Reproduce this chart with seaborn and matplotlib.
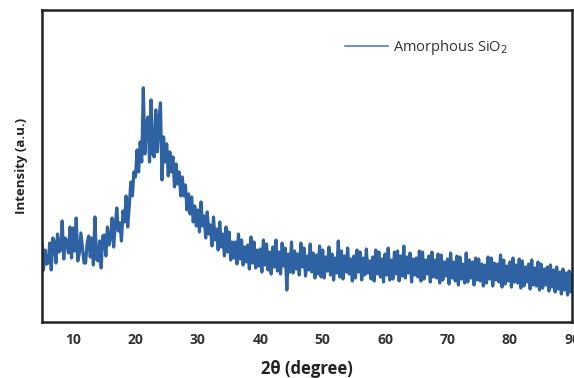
import numpy as np
import matplotlib
matplotlib.use("Agg")
import matplotlib.pyplot as plt
import seaborn as sns

sns.set_style("white")
plt.rcParams['font.family'] = ['Open Sans', 'DejaVu Sans']

# XRD scan, 5-90 deg, 4 readings per degree (arbitrary units)
intensity = [
    79, 52, 72, 58,   59, 79, 52, 84,   80, 59, 88, 70,   72, 101, 63, 84,
    80, 69, 95, 64,   94, 71, 104, 61,  69, 89, 74, 59,   59, 79, 86, 65,
    84, 57, 105, 63,  61, 81, 54, 86,   87, 66, 95, 77,   84, 104, 75, 96,
    114, 91, 99, 81,  111, 100, 126, 95, 116, 140, 126, 150, 145, 172, 150, 180,
    160, 234, 168, 198, 205, 160, 222, 168, 165, 212, 170, 200, 219, 142, 185, 160,
    178, 146, 170, 150, 165, 135, 158, 138, 150, 126, 145, 126, 137, 112, 128, 108,
    125, 100, 116, 96, 112, 90, 120, 96,  106, 84, 110, 88,  97, 76, 105, 82,
    93, 72, 100, 75,  88, 66, 95, 70,   90, 62, 80, 64,   80, 58, 88, 63,
    82, 57, 75, 60,   77, 53, 85, 59,   80, 54, 72, 56,   73, 50, 82, 57,
    78, 52, 70, 48,   75, 55, 82, 51,   70, 48, 79, 56,   74, 32, 68, 50,
    80, 49, 71, 53,   68, 47, 79, 55,   74, 46, 66, 52,   78, 50, 69, 44,
    67, 48, 76, 45,   72, 44, 65, 51,   75, 47, 68, 42,   64, 49, 81, 45,
    71, 43, 66, 50,   74, 48, 63, 41,   66, 44, 72, 50,   70, 42, 64, 47,
    73, 49, 61, 43,   65, 41, 72, 48,   70, 45, 63, 40,   68, 47, 74, 42,
    62, 43, 70, 48,   71, 41, 66, 46,   76, 44, 65, 49,   69, 40, 63, 47,
    64, 45, 71, 41,   70, 43, 62, 48,   66, 40, 70, 45,   62, 44, 68, 39,
    67, 42, 60, 46,   63, 38, 69, 44,   60, 41, 66, 37,   65, 43, 58, 39,
    69, 40, 62, 44,   60, 37, 64, 42,   63, 41, 58, 36,   57, 39, 65, 43,
    64, 36, 59, 42,   58, 40, 67, 35,   62, 38, 56, 41,   60, 35, 64, 40,
    57, 39, 63, 34,   61, 36, 55, 40,   58, 33, 62, 37,   54, 36, 60, 32,
    58, 34, 53, 37,   55, 31, 57, 35,   52, 30, 55, 33,   50, 28, 53, 32,
    49, 27, 51, 30,   48,
]
two_theta = np.linspace(5, 90, len(intensity))
x_ticks = [10, 20, 30, 40, 50, 60, 70, 80, 90]
series_name = "Amorphous SiO$_2$"

blue = "#2f62a3"

fig = plt.figure(figsize=(5.74, 3.78), dpi=100)
ax = fig.add_axes([0.073, 0.148, 0.924, 0.826])

sns.lineplot(x=two_theta, y=intensity, ax=ax, color=blue, linewidth=2.3,
             estimator=None, label=series_name)

ax.set_xlim(5, 90)
ax.set_ylim(0, 312)
ax.set_xticks(x_ticks)
ax.set_yticks([])
ax.tick_params(axis='x', direction='out', length=4, width=1.5, colors='#222222',
               labelsize=10, pad=4)
for lbl in ax.get_xticklabels():
    lbl.set_fontweight('bold')
    lbl.set_color('#333333')

for sp in ax.spines.values():
    sp.set_color('#222222')
    sp.set_linewidth(1.8)

ax.set_xlabel("2θ (degree)", fontsize=12, fontweight='bold', color='#222222', labelpad=9)
ax.set_ylabel("Intensity (a.u.)", fontsize=9.5, fontweight='bold', color='#222222', labelpad=10)

leg = ax.legend(loc='center left', bbox_to_anchor=(0.572, 0.88), frameon=False,
                fontsize=10.5, handlelength=2.9, handletextpad=0.35,
                borderpad=0, borderaxespad=0)
for t in leg.get_texts():
    t.set_color('#333333')
for h in leg.get_lines():
    h.set_color('#6f94c4')
    h.set_linewidth(1.5)

fig.savefig("out.png", dpi=100)
plt.close(fig)
